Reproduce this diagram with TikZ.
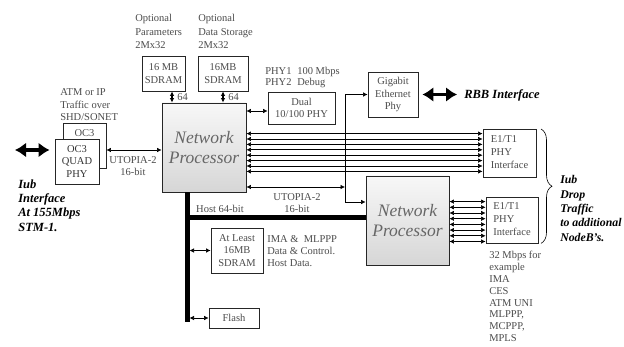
\documentclass[tikz,border=0pt]{standalone}
\usepackage{fontspec}
\setmainfont{Liberation Serif}
\usetikzlibrary{arrows.meta,decorations.pathreplacing}

\begin{document}
\begin{tikzpicture}[x=1pt, y=-1pt, line width=0.6pt,
  box/.style={draw=black!85, fill=white, line width=0.8pt, text=black!70, align=center,
    inner sep=0pt, font=\fontsize{10.5}{12.8}\selectfont},
  npbox/.style={box, top color=black!3, bottom color=black!16, text=black!60,
    font=\fontsize{17.5}{20}\selectfont\itshape},
  note/.style={text=black!70, align=left, inner sep=0pt, anchor=west,
    font=\fontsize{10.5}{12.5}\selectfont},
  iub/.style={align=left, inner sep=0pt, anchor=west,
    font=\fontsize{12.5}{14.3}\selectfont\bfseries\itshape},
  link/.style={{Latex[length=4.5pt,width=4.5pt]}-{Latex[length=4.5pt,width=4.5pt]}},
  fat/.style={line width=3.5pt, {Latex[length=11pt,width=15pt]}-{Latex[length=11pt,width=15pt]}},
  hostbus/.style={line width=5pt}]
  \path[fill=white] (0,0) rectangle (624,347);
  \useasboundingbox (0,0) rectangle (624,347);

  % memories on top of the first processor
  \node[note, font=\fontsize{10.5}{13.5}\selectfont] (optpar) at (135,31.5) {Optional\\Parameters\\2Mx32};
  \node[note, font=\fontsize{10.5}{13.5}\selectfont] (optdat) at (198,31.5) {Optional\\Data Storage\\2Mx32};
  \node[box, minimum width=43pt, minimum height=35pt] (sdramA) at (163.5,73.5) {16 MB\\SDRAM};
  \node[box, minimum width=50pt, minimum height=35pt] (sdramB) at (223,73.5) {16MB\\SDRAM};

  % processors
  \node[npbox, minimum width=84pt, minimum height=89pt] (np1) at (204,147.5) {Network\\Processor};
  \node[npbox, minimum width=83pt, minimum height=89pt] (np2) at (407.5,220.5) {Network\\Processor};

  \draw[link, line width=1.1pt] ([xshift=8.5pt]sdramA.south) -- ([xshift=8.5pt]sdramA.south |- np1.north);
  \draw[link, line width=1.1pt] (sdramB.south) -- (sdramB.south |- np1.north);
  \node[note] (wa) at (177,97) {64};
  \node[note] (wb) at (228,97) {64};

  % ethernet side
  \node[note, font=\fontsize{10.5}{11.5}\selectfont] (phynote) at (265,77.5) {\makebox[32pt][l]{PHY1}100 Mbps\\\makebox[32pt][l]{PHY2}Debug};
  \node[box, minimum width=67pt, minimum height=32pt] (dualphy) at (301.5,108) {Dual\\10/100 PHY};
  \path ([yshift=-3pt]dualphy.west) coordinate (dp);
  \draw[link] (dp -| np1.east) -- (dp);
  \node[box, minimum width=50pt, minimum height=45pt] (gige) at (393,94.5) {Gigabit\\Ethernet\\Phy};
  \node[iub] (rbb) at (464,95) {RBB Interface};
  \draw[fat, shorten <=4pt, shorten >=7pt] (gige.east) -- (gige.east -| rbb.west);

  % E1/T1 side
  \node[box, minimum width=53pt, minimum height=48pt] (phyA) at (509.5,153) {\begin{tabular}{@{}l@{}}E1/T1\\PHY\\Interface\end{tabular}};
  \node[box, minimum width=52pt, minimum height=46pt] (phyB) at (512,220) {\begin{tabular}{@{}l@{}}E1/T1\\PHY\\Interface\end{tabular}};
  \foreach \i [evaluate=\i as \d using 5+5.4*\i] in {0,...,7} {
    \path ([yshift=-\d pt]phyA.north west) coordinate (e);
    \draw[link] (e -| np1.east) -- (e);
  }
  \foreach \i [evaluate=\i as \d using 5+5.7*\i] in {0,...,7} {
    \path ([yshift=-\d pt]phyB.north west) coordinate (e);
    \draw[link] (e -| np2.east) -- (e);
  }
  \node[note, font=\fontsize{10.5}{11.8}\selectfont] (modes) at (489,296.5) {32 Mbps for\\example\\IMA\\CES\\ATM UNI\\MLPPP,\\MCPPP,\\MPLS};
  \coordinate (brtop) at (541,129);
  \draw[decorate, decoration={brace, amplitude=11pt}] (brtop) -- (brtop |- phyB.south);
  \node[iub, font=\fontsize{11.8}{14.3}\selectfont\bfseries\itshape] (drop) at (560,208.5) {Iub\\Drop\\Traffic\\to additional\\NodeB's.};

  % gigabit and utopia to second processor
  \coordinate (gbend) at (345,202);
  \draw[link] (gige.west) -| (gbend) -- (gbend -| np2.west);
  \coordinate (ut2) at (345,187);
  \draw[link] (ut2 -| np1.east) -- (ut2);
  \node[note, anchor=center, align=center] (ut2lbl) at (297,203) {UTOPIA-2\\16-bit};

  % OC3 line card
  \node[box, minimum width=43pt, minimum height=45pt,
    label={[text=black!70, font=\fontsize{10.5}{12}\selectfont, inner sep=0pt, anchor=north, yshift=-6.5pt]north:OC3}] (oc3b) at (84.5,145.5) {};
  \node[box, minimum width=44pt, minimum height=45pt, text=black!80, font=\fontsize{10.5}{12.5}\selectfont] (oc3f) at (77,161.5) {OC3\\QUAD\\PHY};
  \node[note] (atm) at (60,105) {ATM or IP\\Traffic over\\SHD/SONET};
  \coordinate (iubL) at (15,150);
  \draw[fat, shorten >=5pt] (iubL) -- (iubL -| oc3f.west);
  \draw[link] (oc3b.east |- iubL) -- (np1.west |- iubL);
  \node[note, anchor=center, align=center] (ut1lbl) at (133,166) {UTOPIA-2\\16-bit};
  \node[iub] (iubif) at (18,205.5) {Iub\\Interface\\At 155Mbps\\STM-1.};

  % host bus
  \coordinate (hostL) at (187,218);
  \coordinate (busend) at (187,322);
  \draw[hostbus] (busend |- np1.south) -- (busend);
  \draw[hostbus] (hostL) -- (hostL -| np2.west);
  \node[note, anchor=center] (hostlbl) at (220,209) {Host 64-bit};
  \node[box, minimum width=52pt, minimum height=45pt] (sdramC) at (237,250.5) {At Least\\16MB\\SDRAM};
  \node[note, font=\fontsize{10.5}{12}\selectfont] (hostmem) at (267,251) {IMA \&\ \ MLPPP\\Data \& Control.\\Host Data.};
  \node[box, minimum width=50pt, minimum height=20pt] (flash) at (234,318) {Flash};
  \coordinate (busedge) at (189.5,322);
  \draw[link] (busedge |- sdramC.west) -- (sdramC.west);
  \draw[link] (busedge |- flash.west) -- (flash.west);
\end{tikzpicture}
\end{document}
